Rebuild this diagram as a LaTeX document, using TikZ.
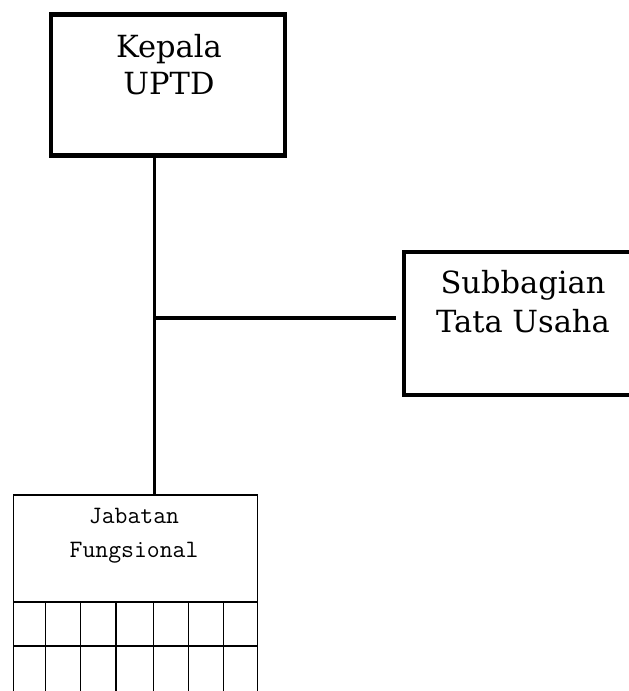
\documentclass[tikz,border=0pt]{standalone}
\usepackage{fontspec}
\setmainfont{DejaVu Serif}
\begin{document}
\begin{tikzpicture}[x=1pt,y=-1pt,
  thickbox/.style={draw, line width=4.2pt, inner sep=0pt},
  conn/.style={line width=3.3pt},
  thin/.style={line width=1.3pt},
  boxtext/.style={anchor=base, inner sep=0pt, font=\fontsize{30.5}{37}\selectfont},
  jabtext/.style={anchor=base, inner sep=0pt, font=\ttfamily\fontsize{25}{34}\selectfont}]
\useasboundingbox (0,0) rectangle (629,691);
\clip (0,0) rectangle (629,691);
% boxes
\node[thickbox, minimum width=234pt, minimum height=141pt] (kepala) at (168,85) {};
\node[thickbox, minimum width=238pt, minimum height=143pt] (sub) at (523,323.75) {};
\node[draw, thin, inner sep=0pt, minimum width=244pt, minimum height=240pt] (jab) at (135.3,615) {};
% texts
\node[boxtext] (k1) at (169,57) {Kepala};
\node[boxtext] (k2) at (169,94) {UPTD};
\node[boxtext] (s1) at (523,293) {Subbagian};
\node[boxtext] (s2) at (523,332) {Tata Usaha};
\node[jabtext] (j1) at (134,523) {Jabatan};
\node[jabtext] (j2) at (134,557) {Fungsional};
% connectors
\coordinate (junc) at (154.5,318);
\coordinate (hend) at (395.5,318);
\draw[conn] (kepala.south -| junc) -- (jab.north -| junc);
\draw[conn] (junc) -- (hend);
% grid in Jabatan box
\coordinate (g1) at (13.3,602);
\coordinate (g2) at (13.3,646);
\draw[thin] (g1) -- (g1 -| jab.east);
\draw[thin] (g2) -- (g2 -| jab.east);
\foreach \gx in {45.3,80.7,116,153.3,188.7,223.3}{
  \draw[thin] (\gx,602) -- (\gx,700);
}
\end{tikzpicture}
\end{document}
